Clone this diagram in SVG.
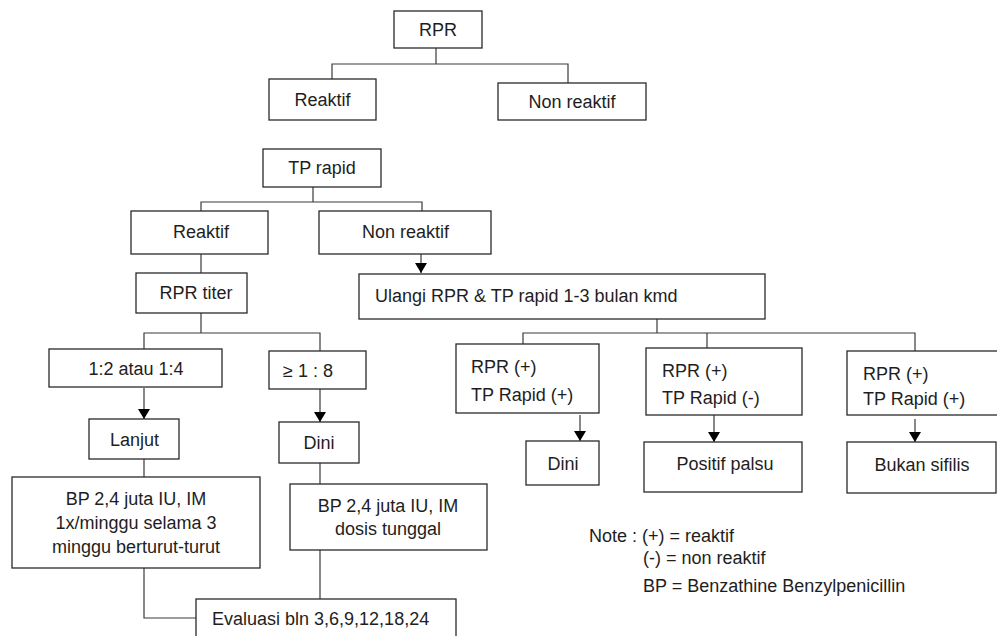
<svg xmlns="http://www.w3.org/2000/svg" width="997" height="636" viewBox="0 0 997 636">
<style>
.box{fill:#fff;stroke:#2a2a2a;stroke-width:1.3}
text{font-family:"Liberation Sans",Arial,sans-serif;fill:#1e1e1e;font-size:18px}
.c{text-anchor:middle}
.ln{fill:none;stroke:#3a3a3a;stroke-width:1.2}
</style>
<defs>
<marker id="ah" viewBox="0 0 10 12" refX="10" refY="6" markerWidth="10" markerHeight="12" markerUnits="userSpaceOnUse" orient="auto">
<path d="M0,0 L10,6 L0,12 z" fill="#000"/>
</marker>
</defs>
<rect width="997" height="636" fill="#fff"/>
<g id="connectors">
<path class="ln" d="M436,48 V64 M332,79 V64 H568 V83"/>
<path class="ln" d="M313,187 V202 M201,211 V202 H422 V211"/>
<path class="ln" d="M201,254 V273"/>
<path class="ln" d="M421,254 V273" marker-end="url(#ah)"/>
<path class="ln" d="M201,313 V333 M144,349 V333 H320 V351"/>
<path class="ln" d="M144,388 V419" marker-end="url(#ah)"/>
<path class="ln" d="M320,389 V422" marker-end="url(#ah)"/>
<path class="ln" d="M144,459 V477"/>
<path class="ln" d="M320,463 V484"/>
<path class="ln" d="M320,550 V599"/>
<path class="ln" d="M144,568 V618 H196"/>
<path class="ln" d="M657,319 V333 M523,347 V333 H915 V351 M707,333 V348"/>
<path class="ln" d="M580,415 V441" marker-end="url(#ah)"/>
<path class="ln" d="M714,415 V442" marker-end="url(#ah)"/>
<path class="ln" d="M915,419 V442" marker-end="url(#ah)"/>
</g>
<g id="n-rpr"><rect class="box" x="394" y="11" width="88" height="37"/><text class="c" x="438" y="36" font-size="15.5">RPR</text></g>
<g id="n-reaktif1"><rect class="box" x="269" y="79" width="107" height="41"/><text class="c" x="322.5" y="106">Reaktif</text></g>
<g id="n-nonreaktif1"><rect class="box" x="498" y="83" width="148" height="37"/><text class="c" x="572" y="108" font-size="18.5">Non reaktif</text></g>
<g id="n-tprapid"><rect class="box" x="263" y="149" width="118" height="38"/><text class="c" x="322" y="174" font-size="17.5">TP rapid</text></g>
<g id="n-reaktif2"><rect class="box" x="131" y="211" width="137" height="43"/><text class="c" x="201" y="238">Reaktif</text></g>
<g id="n-nonreaktif2"><rect class="box" x="319" y="211" width="172" height="43"/><text class="c" x="405.5" y="238" font-size="19">Non reaktif</text></g>
<g id="n-rprtiter"><rect class="box" x="136" y="273" width="111" height="40"/><text class="c" x="196" y="299" font-size="17.5">RPR titer</text></g>
<g id="n-ulangi"><rect class="box" x="359" y="274" width="406" height="45"/><text x="375" y="302" font-size="19.5">Ulangi RPR &amp; TP rapid 1-3 bulan kmd</text></g>
<g id="n-titer1"><rect class="box" x="49" y="349" width="173" height="38"/><text class="c" x="136" y="375" font-size="20">1:2 atau 1:4</text></g>
<g id="n-titer2"><rect class="box" x="269" y="351" width="97" height="38"/><text x="283" y="377" font-size="20">≥ 1 : 8</text></g>
<g id="n-lanjut"><rect class="box" x="89" y="419" width="90" height="40"/><text class="c" x="134.5" y="446" font-size="20">Lanjut</text></g>
<g id="n-dini1"><rect class="box" x="279" y="422" width="80" height="41"/><text class="c" x="319" y="449" font-size="20">Dini</text></g>
<g id="n-bp1"><rect class="box" x="12" y="477" width="248" height="91"/><text class="c" x="136" y="505">BP 2,4 juta IU, IM</text><text class="c" x="136" y="529">1x/minggu selama 3</text><text class="c" x="136" y="553">minggu berturut-turut</text></g>
<g id="n-bp2"><rect class="box" x="290" y="484" width="197" height="66"/><text class="c" x="388" y="512">BP 2,4 juta IU, IM</text><text class="c" x="388" y="535">dosis tunggal</text></g>
<g id="n-evaluasi"><rect class="box" x="196" y="599" width="260" height="45"/><text x="212" y="625">Evaluasi bln 3,6,9,12,18,24</text></g>
<g id="n-hasil1"><rect class="box" x="456" y="344" width="143" height="69"/><text x="471" y="373" font-size="19">RPR (+)</text><text x="471" y="401" font-size="19">TP Rapid (+)</text></g>
<g id="n-hasil2"><rect class="box" x="646" y="348" width="156" height="67"/><text x="662" y="377" font-size="19">RPR (+)</text><text x="662" y="404" font-size="19">TP Rapid (-)</text></g>
<g id="n-hasil3"><rect class="box" x="847" y="351" width="160" height="64"/><text x="863" y="380" font-size="19">RPR (+)</text><text x="863" y="405" font-size="19">TP Rapid (+)</text></g>
<g id="n-dini2"><rect class="box" x="526" y="441" width="73" height="44"/><text class="c" x="563" y="470" font-size="21">Dini</text></g>
<g id="n-positifpalsu"><rect class="box" x="644" y="442" width="158" height="50"/><text class="c" x="725" y="470" font-size="20">Positif palsu</text></g>
<g id="n-bukansifilis"><rect class="box" x="847" y="442" width="149" height="51"/><text class="c" x="922" y="471" font-size="20">Bukan sifilis</text></g>
<g id="note">
<text x="589" y="542">Note : (+) = reaktif</text>
<text x="643" y="564">(-) = non reaktif</text>
<text x="643" y="592">BP = Benzathine Benzylpenicillin</text>
</g>
</svg>
